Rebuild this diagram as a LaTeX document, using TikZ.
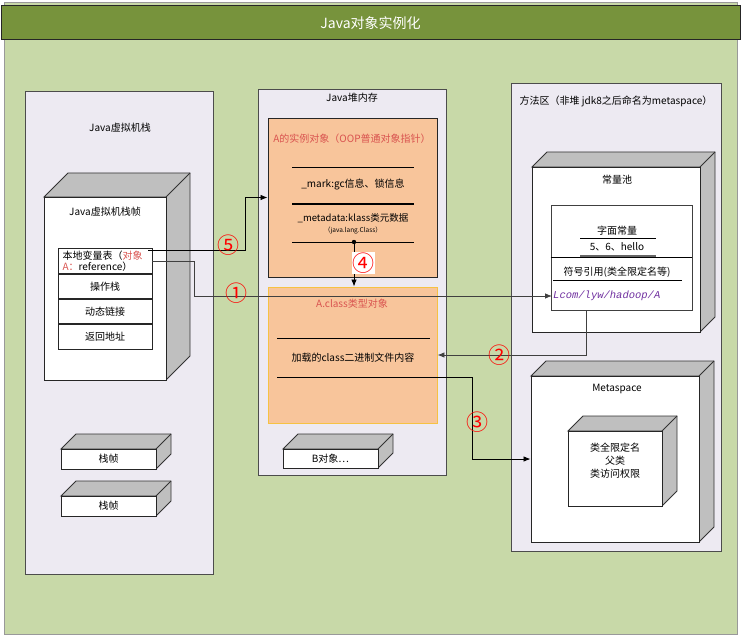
\documentclass[tikz,border=0pt]{standalone}
\usepackage{fontspec}
\setmainfont{Noto Sans CJK SC}
\newfontfamily\monofont{Liberation Mono}
\usetikzlibrary{arrows.meta,positioning}

\definecolor{bggreen}{HTML}{C8D9A8}
\definecolor{titlegreen}{HTML}{77933C}
\definecolor{panelgray}{HTML}{EDEAF2}
\definecolor{sidegray}{HTML}{BFBFBF}
\definecolor{peach}{HTML}{F8C59B}
\definecolor{gold}{HTML}{F6C243}
\definecolor{redtxt}{HTML}{D9534F}
\definecolor{purp}{HTML}{7030A0}

\tikzset{
  panel/.style={draw=black!70, fill=panelgray, line width=1pt},
  cubeside/.style={draw=black!80, fill=sidegray, line width=0.9pt},
  cubefront/.style={draw=black!85, fill=white, line width=0.9pt, inner sep=0pt},
  row/.style={draw=black!85, fill=white, line width=0.8pt, minimum width=94pt, minimum height=24.5pt, inner sep=0pt},
  sep/.style={line width=0.8pt},
  conn/.style={->, line width=0.8pt},
  num/.style={text=red, font=\fontsize{22}{22}\selectfont, inner sep=0pt},
  redlabel/.style={text=redtxt},
}

% front face, top face and side of a box
\newcommand{\cubebox}[6]{%
  \draw[cubeside] (#2,#3) -- ++(#6,-#6) -- ({#4+#6},{#3-#6}) -- ({#4+#6},{#5-#6}) -- (#4,#5) -- (#4,#3) -- cycle;
  \draw[cubeside] (#4,#3) -- ++(#6,-#6);
  \node[cubefront, minimum width={(#4-#2)*1pt}, minimum height={(#5-#3)*1pt}] (#1) at ({(#2+#4)/2},{(#3+#5)/2}) {};
}

\begin{document}
\begin{tikzpicture}[x=1pt, y=-1pt, font=\fontsize{10}{12}\selectfont, >={Latex[length=7pt,width=5.5pt]}]

    \useasboundingbox (0,0) rectangle (741,636);

    % fond et titre
    \draw[draw=black!40, fill=bggreen] (4,2) rectangle (737,634);
    \node[draw=black!85, fill=titlegreen, line width=1pt, minimum width=739pt, minimum height=34pt,
          text=white, font=\fontsize{14}{16}\selectfont] (title) at (370.5,23) {Java对象实例化};

    % zones
    \draw[panel] (25,92) rectangle (213,574);
    \node (stacklbl) at (120,128) {Java虚拟机栈};
    \draw[panel] (258,90) rectangle (446,475);
    \node (heaplbl) at (352,98) {Java堆内存};
    \draw[panel] (511,84) rectangle (721,551);
    \node (methodlbl) at (616,101) {方法区（非堆 jdk8之后命名为metaspace）};

    % pile : cadre
    \cubebox{frame}{44}{197}{166}{380}{24}
    \node (framelbl) at (105,212) {Java虚拟机栈帧};
    \node[row] (lvt) at (105,261) {};
    \node[anchor=west, align=left, font=\fontsize{10}{11.5}\selectfont] (lvttxt) at (59,261)
        {本地变量表（\textcolor{redtxt}{对象}\\\textcolor{redtxt}{A：}reference）};
    \node[row, below=0pt of lvt] (opstack) {操作栈};
    \node[row, below=0pt of opstack] (dynlink) {动态链接};
    \node[row, below=0pt of dynlink] (retaddr) {返回地址};

    % autres cadres
    \cubebox{frameb}{61}{449}{156}{469}{15}
    \node at (frameb) {栈帧};
    \cubebox{framec}{61}{496}{156}{516}{15}
    \node at (framec) {栈帧};

    % instance de A
    \node[draw=black!85, fill=peach, line width=0.9pt, minimum width=169pt, minimum height=159pt] (inst) at (352.5,197.5) {};
    \node[redlabel] (insttitle) at (352,139) {A的实例对象（OOP普通对象指针）};
    \draw[sep] (292,167) -- (414,167);
    \node (mark) at (353,185) {\_mark:gc信息、锁信息};
    \draw[line width=1.4pt] (292,204) -- (414,204);
    \node[font=\fontsize{9.5}{11}\selectfont] (meta1) at (353,218) {\_metadata:klass类元数据};
    \node[font=\fontsize{6.5}{8}\selectfont] (meta2) at (353,231) {（java.lang.Class）};
    \draw[sep] (292,242) -- (414,242);
    \coordinate (dot) at (354,242);
    \fill (dot) circle (2.2pt);

    % objet classe
    \node[draw=gold, fill=peach, line width=0.9pt, minimum width=169pt, minimum height=136pt] (cls) at (352.5,355) {};
    \node[redlabel] (clstitle) at (352,304) {A.class类型对象};
    \draw[sep] (277,338) -- (430,338);
    \node (clstxt) at (353,358) {加载的class二进制文件内容};
    \coordinate (load) at (277,377);

    % objet B
    \cubebox{bobj}{283}{449}{378}{468}{15}
    \node at (bobj) {B对象…};

    % pool de constantes
    \cubebox{pool}{532}{167}{700}{332}{15}
    \node (poollbl) at (617,180) {常量池};
    \node[draw=black!75, fill=white, line width=0.9pt, minimum width=141pt, minimum height=105pt] (poolbox) at (621.5,257.5) {};
    \draw[sep] (poolbox.west |- 0,257) -- (poolbox.east |- 0,257);
    \node (literal) at (617,231) {字面常量};
    \draw[sep] (580,238) -- (656,238);
    \node (values) at (617,247) {5、6、hello};
    \draw[black!60, line width=1.4pt] (580,256) -- (656,256);
    \node (symref) at (617,272) {符号引用(类全限定名等)};
    \draw[sep] (553,280) -- (682,280);
    \node[anchor=west, text=purp, inner sep=1pt, font=\monofont\itshape\fontsize{10.5}{12}\selectfont] (lcom) at (552,296) {Lcom/lyw/hadoop/A};
    \coordinate (sym) at (586,310);

    % metaspace
    \cubebox{meta}{531}{376}{699}{542}{15}
    \node (metalbl) at (617,389) {Metaspace};
    \cubebox{klass}{568}{431}{662}{506}{15}
    \node[align=center, font=\fontsize{10}{13}\selectfont] (klasstxt) at (615,461) {类全限定名\\父类\\类访问权限};

    % liaisons
    \coordinate (ref5) at (148,250);
    \draw[conn] (ref5) -- (245,250) |- (inst.west);
    \draw[conn, black!75] (lvt.east) -- (194,261) |- (lcom.west);
    \draw[conn, black!75] (sym) |- (cls.east);
    \draw[conn] (load) -- (472,377) |- (meta.west);
    \draw[conn] (dot) -- (dot |- cls.north);

    % numeros
    \node[num] (n5) at (228,245) {⑤};
    \node[num] (n1) at (236,293) {①};
    \node[num] (n2) at (499,355) {②};
    \node[num] (n3) at (477,422) {③};
    \node[num, fill=white, inner sep=0.5pt] (n4) at (363,263) {④};

\end{tikzpicture}
\end{document}
